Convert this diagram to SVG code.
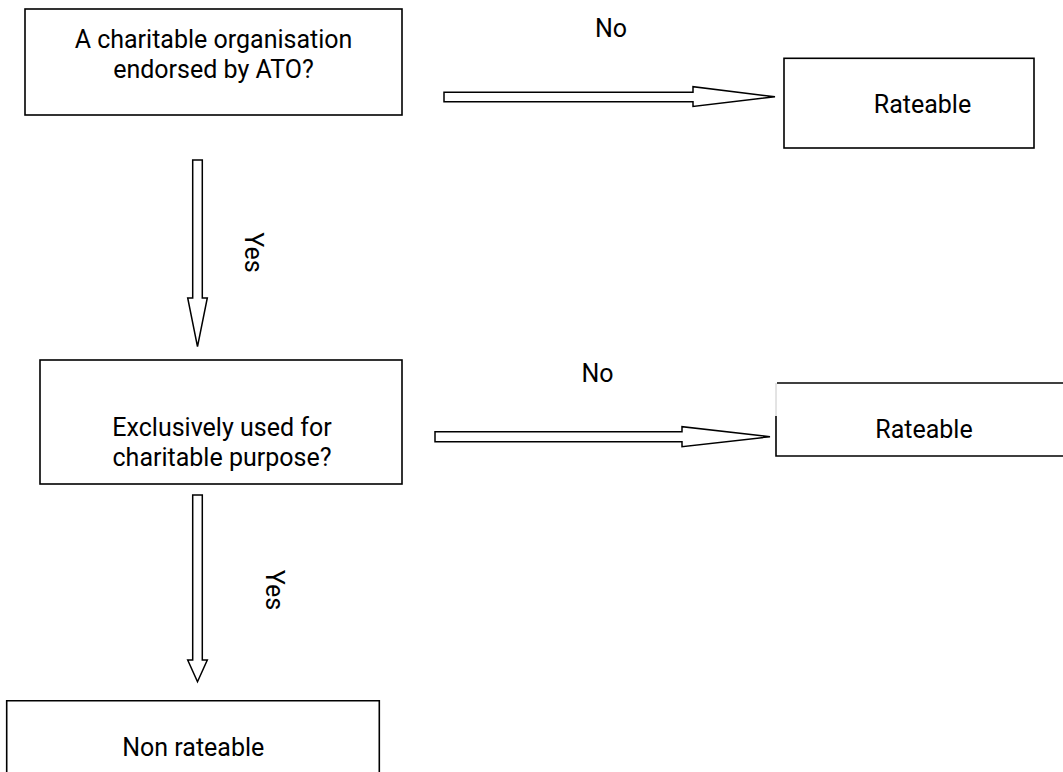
<svg xmlns="http://www.w3.org/2000/svg" width="1063" height="772" viewBox="0 0 1063 772">
<style>
.box{fill:#fff;stroke:#000;stroke-width:1.6}
.ln{fill:none;stroke:#000;stroke-width:1.6}
.arr{fill:#fff;stroke:#000;stroke-width:1.5;stroke-linejoin:miter}
.t{font-family:Roboto,"Open Sans","Liberation Sans",sans-serif;font-size:25px;fill:#000;text-anchor:middle}
</style>
<rect width="1063" height="772" fill="#fff"/>
<g id="connectors">
<polygon class="arr" points="444,92.3 693,92.3 693,86.7 775,96.8 693,106.5 693,101.7 444,101.7"/>
<polygon class="arr" points="435,431.7 682,431.7 682,426.7 770,436.7 682,446.7 682,441.7 435,441.7"/>
<polygon class="arr" points="192.7,160 202.3,160 202.3,298 207.3,298 197.5,346.7 187.7,298 192.7,298"/>
<polygon class="arr" points="192.7,495 202.3,495 202.3,660 207.3,660 197.5,681.7 187.7,660 192.7,660"/>
<text class="t" x="611" y="37">No</text>
<text class="t" x="597.5" y="382">No</text>
<text class="t" transform="translate(245,252.5) rotate(90)">Yes</text>
<text class="t" transform="translate(266,590) rotate(90)">Yes</text>
</g>
<g id="n1">
<rect class="box" x="25" y="9" width="377" height="106"/>
<text class="t"><tspan x="213.5" y="48">A charitable organisation</tspan><tspan x="213.5" y="78">endorsed by ATO?</tspan></text>
</g>
<g id="n2">
<rect class="box" x="784" y="58.3" width="250" height="89.7"/>
<text class="t" x="922.5" y="112.7">Rateable</text>
</g>
<g id="n3">
<rect class="box" x="40" y="360" width="362" height="124"/>
<text class="t"><tspan x="222" y="436">Exclusively used for</tspan><tspan x="222" y="466">charitable purpose?</tspan></text>
</g>
<g id="n4">
<line x1="776" y1="383" x2="776" y2="416" stroke="#c8c8c8" stroke-width="1"/>
<polyline class="ln" points="1063,383 777,383"/>
<polyline class="ln" points="776,416 776,456 1063,456"/>
<text class="t" x="924" y="438">Rateable</text>
</g>
<g id="n5">
<polyline class="ln" points="6.7,772 6.7,700.7 379.3,700.7 379.3,772"/>
<text class="t" x="193.3" y="756">Non rateable</text>
</g>
</svg>
